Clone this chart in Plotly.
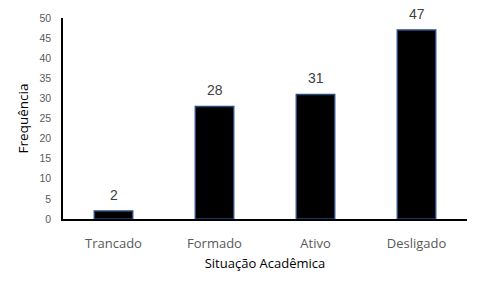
import plotly.graph_objects as go

categories = ["Trancado", "Formado", "Ativo", "Desligado"]
values = [2, 28, 31, 47]
y_ticks = list(range(0, 55, 5))

fig = go.Figure()
fig.add_trace(go.Bar(
    x=categories, y=values,
    marker=dict(color="#000000", line=dict(color="#2a4a80", width=1.5)),
    width=0.38,
    cliponaxis=False,
))
for c, v in zip(categories, values):
    fig.add_annotation(x=c, y=v, text=str(v), showarrow=False, yanchor="bottom", yshift=6,
                       font=dict(family="Liberation Sans, Arial", size=14, color="#404040"))
fig.update_layout(
    width=480, height=289,
    margin=dict(l=63, r=13, t=15, b=70),
    paper_bgcolor="white", plot_bgcolor="white",
    showlegend=False,
    xaxis=dict(
        showline=True, linecolor="black", linewidth=1.5,
        tickfont=dict(family="Open Sans, Liberation Sans", size=13, color="#595959"),
        title=dict(text="Situação Acadêmica", standoff=8,
                   font=dict(family="Open Sans, Liberation Sans", size=13, color="black")),
        ticks="", showgrid=False, ticklabelstandoff=12,
    ),
    yaxis=dict(
        range=[0, 50], tickvals=y_ticks, showline=True, linecolor="black", linewidth=1.5,
        tickfont=dict(family="Liberation Sans, Arial", size=10.5, color="#595959"),
        title=dict(text="Frequência", standoff=8,
                   font=dict(family="Open Sans, Liberation Sans", size=13.5, color="black")),
        ticks="", showgrid=False, ticklabelstandoff=8,
    ),
)
fig.write_html("out.html")
